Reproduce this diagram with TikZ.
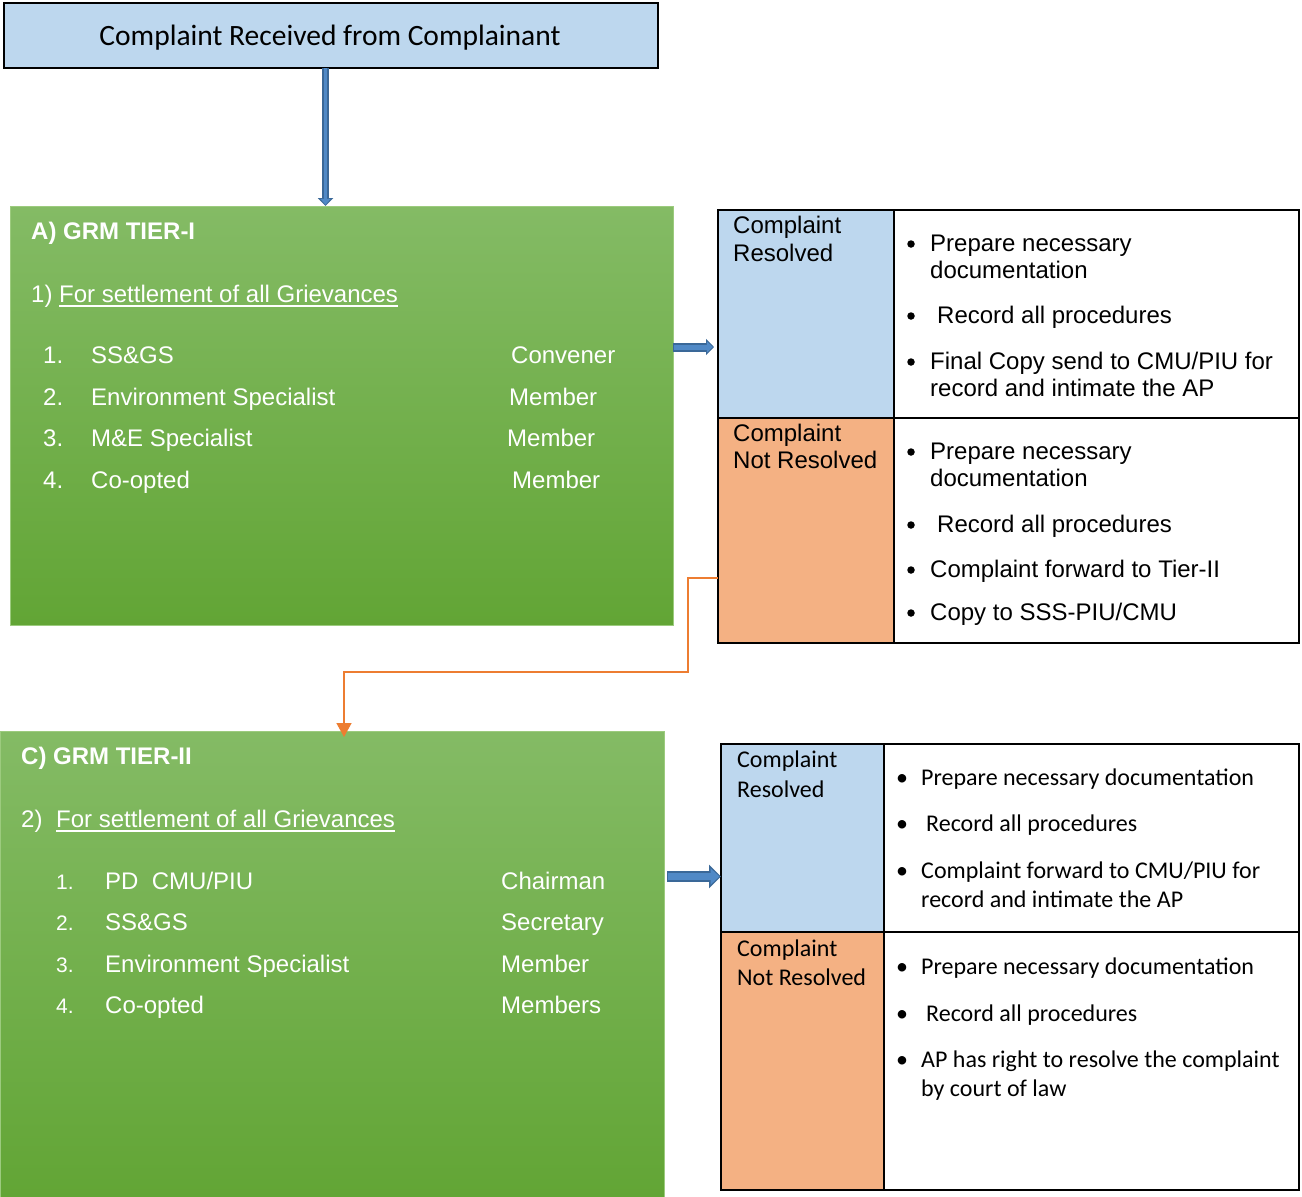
\documentclass[tikz,border=0pt]{standalone}
\usepackage{fontspec}
\newfontfamily\arialf{Liberation Sans}
\newfontfamily\calf{Carlito}
\usetikzlibrary{arrows.meta,calc}
\definecolor{lblue}{HTML}{BDD7EE}
\definecolor{lorange}{HTML}{F4B183}
\definecolor{gtop}{HTML}{84BB65}
\definecolor{gbot}{HTML}{62A535}
\definecolor{gline}{HTML}{9CCB7E}
\definecolor{ablue}{HTML}{5089C6}
\definecolor{ablued}{HTML}{3A6898}
\definecolor{aorange}{HTML}{ED7D31}
\newcommand\ulx[1]{\sbox0{#1}\rlap{\rule[-4.5pt]{\wd0}{1.4pt}}\usebox0}
\tikzset{
 cellbox/.style={draw=black, line width=2pt, anchor=north west, inner sep=0, outer sep=0},
 greenbox/.style={draw=gline, line width=1pt, top color=gtop, bottom color=gbot, anchor=north west, inner sep=0, outer sep=0},
 wtxt/.style={anchor=base west, inner sep=0, text=white, font=\arialf\fontsize{24}{28}\selectfont},
 wbold/.style={wtxt, font=\arialf\bfseries\fontsize{24}{28}\selectfont},
 wnum/.style={wtxt, font=\arialf\fontsize{21}{26}\selectfont},
 atxt/.style={anchor=base west, inner sep=0, font=\arialf\fontsize{24}{28}\selectfont},
 ctxt/.style={anchor=base west, inner sep=0, font=\calf\fontsize{24}{29}\selectfont},
 abul/.style={circle, fill=black, inner sep=0, outer sep=0, minimum size=7.5pt},
 cbul/.style={anchor=base, inner sep=0, font=\calf\fontsize{24}{29}\selectfont},
 oline/.style={draw=aorange, line width=1.5pt, -{Triangle[length=14pt,width=15pt]}},
}
\begin{document}
\begin{tikzpicture}[x=1pt,y=-1pt]
\useasboundingbox (0,0) rectangle (1302,1197);
\fill[white] (0,0) rectangle (1302,1197);

% top box
\node[draw=black, line width=2pt, fill=lblue, minimum width=654, minimum height=65, inner sep=0, outer sep=0] (top) at (331,35.5) {};
\node[anchor=base, inner sep=0, font=\calf\fontsize{29.5}{34}\selectfont] (toptxt) at (330,45) {Complaint Received from Complainant};

% green boxes
\node[greenbox, minimum width=663, minimum height=419] (tier1) at (10,206) {};
\node[greenbox, minimum width=664, minimum height=468] (tier2) at (0,731) {};

% table 1
\node[cellbox, fill=lblue, minimum width=176, minimum height=208] (r1a) at (718,210) {};
\node[cellbox, fill=white, minimum width=405, minimum height=208] (r1b) at (894,210) {};
\node[cellbox, fill=lorange, minimum width=176, minimum height=225] (r1c) at (718,418) {};
\node[cellbox, fill=white, minimum width=405, minimum height=225] (r1d) at (894,418) {};

% table 2
\node[cellbox, fill=lblue, minimum width=163, minimum height=188] (r2a) at (721,744) {};
\node[cellbox, fill=white, minimum width=415, minimum height=188] (r2b) at (884,744) {};
\node[cellbox, fill=lorange, minimum width=163, minimum height=258] (r2c) at (721,932) {};
\node[cellbox, fill=white, minimum width=415, minimum height=258] (r2d) at (884,932) {};

% arrows
\coordinate (va) at ($(top.south)+(-5.5,0)$);
\draw[ablued, line width=6.5pt, -{Triangle[length=8pt,width=15pt]}] (va) -- (va |- tier1.north);
\draw[ablue, line width=3pt, -{Triangle[length=6pt,width=10pt]}, shorten >=1.2pt] (va) -- (va |- tier1.north);

\draw[ablued, line width=9pt, -{Triangle[length=8pt,width=16pt]}, shorten >=4pt] (tier1.east |- 0,347) -- (r1a.west |- 0,347);
\draw[ablue, line width=5pt, -{Triangle[length=6pt,width=11pt]}, shorten >=5.2pt, shorten <=1pt] (tier1.east |- 0,347) -- (r1a.west |- 0,347);

\draw[ablued, line width=11.5pt, -{Triangle[length=12pt,width=23pt]}, shorten <=3pt] (tier2.east |- 0,876.5) -- (r2a.west |- 0,876.5);
\draw[ablue, line width=7pt, -{Triangle[length=9pt,width=16pt]}, shorten <=4pt, shorten >=1.5pt] (tier2.east |- 0,876.5) -- (r2a.west |- 0,876.5);

\coordinate (o1) at (688,578);
\coordinate (o2) at (344,672);
\draw[oline, shorten >=-6pt] (r1c.west |- o1) -- (o1) |- (o2) -- (o2 |- tier2.north);

% tier I text
\node[wbold] (h1) at (31,239.5) {A) GRM TIER-I};
\node[wtxt] (s1) at (31,302) {1) \ulx{For settlement of all Grievances}};
\node[wtxt] (n11) at (43,363.5) {1.};
\node[wtxt] (m11) at (91,363.5) {SS\&GS};
\node[wtxt] (p11) at (511,363.5) {Convener};
\node[wtxt] (n12) at (43,405) {2.};
\node[wtxt] (m12) at (91,405) {Environment Specialist};
\node[wtxt] (p12) at (509,405) {Member};
\node[wtxt] (n13) at (43,446.5) {3.};
\node[wtxt] (m13) at (91,446.5) {M\&E Specialist};
\node[wtxt] (p13) at (507,446.5) {Member};
\node[wtxt] (n14) at (43,488) {4.};
\node[wtxt] (m14) at (91,488) {Co-opted};
\node[wtxt] (p14) at (512,488) {Member};

% tier II text
\node[wbold] (h2) at (21,764) {C) GRM TIER-II};
\node[wtxt] (s2n) at (21,827) {2)};
\node[wtxt] (s2) at (56,827) {\ulx{For settlement of all Grievances}};
\node[wnum] (n21) at (56,889) {1.};
\node[wtxt] (m21) at (105,889) {PD\ \ CMU/PIU};
\node[wtxt] (p21) at (501,889) {Chairman};
\node[wnum] (n22) at (56,930.5) {2.};
\node[wtxt] (m22) at (105,930.5) {SS\&GS};
\node[wtxt] (p22) at (501,930.5) {Secretary};
\node[wnum] (n23) at (56,972) {3.};
\node[wtxt] (m23) at (105,972) {Environment Specialist};
\node[wtxt] (p23) at (501,972) {Member};
\node[wnum] (n24) at (56,1013) {4.};
\node[wtxt] (m24) at (105,1013) {Co-opted};
\node[wtxt] (p24) at (501,1013) {Members};

% table 1 text
\node[atxt] (c1a) at (733,233) {Complaint};
\node[atxt] (c1b) at (733,261) {Resolved};
\node[abul] (b11) at (911,244) {};
\node[atxt] (t11) at (930,251) {Prepare necessary};
\node[atxt] (t12) at (930,278) {documentation};
\node[abul] (b12) at (911,316) {};
\node[atxt] (t13) at (937,323) {Record all procedures};
\node[abul] (b13) at (911,362) {};
\node[atxt] (t14) at (930,369) {Final Copy send to CMU/PIU for};
\node[atxt] (t15) at (930,396) {record and intimate the AP};
\node[atxt] (c1c) at (733,441) {Complaint};
\node[atxt] (c1d) at (733,468) {Not Resolved};
\node[abul] (b14) at (911,452) {};
\node[atxt] (t16) at (930,459) {Prepare necessary};
\node[atxt] (t17) at (930,486) {documentation};
\node[abul] (b15) at (911,525) {};
\node[atxt] (t18) at (937,532) {Record all procedures};
\node[abul] (b16) at (911,570) {};
\node[atxt] (t19) at (930,577) {Complaint forward to Tier-II};
\node[abul] (b17) at (911,613) {};
\node[atxt] (t1a) at (930,620) {Copy to SSS-PIU/CMU};

% table 2 text
\node[ctxt] (c2a) at (737,767.5) {Complaint};
\node[ctxt] (c2b) at (737,797) {Resolved};
\node[cbul] (b21) at (902,785) {•};
\node[ctxt] (t21) at (921,785) {Prepare necessary documentation};
\node[cbul] (b22) at (902,831.5) {•};
\node[ctxt] (t22) at (926,831.5) {Record all procedures};
\node[cbul] (b23) at (902,878) {•};
\node[ctxt] (t23) at (921,878) {Complaint forward to CMU/PIU for};
\node[ctxt] (t24) at (921,907) {record and intimate the AP};
\node[ctxt] (c2c) at (737,956.5) {Complaint};
\node[ctxt] (c2d) at (737,985.5) {Not Resolved};
\node[cbul] (b24) at (902,974.5) {•};
\node[ctxt] (t25) at (921,974.5) {Prepare necessary documentation};
\node[cbul] (b25) at (902,1021) {•};
\node[ctxt] (t26) at (926,1021) {Record all procedures};
\node[cbul] (b26) at (902,1067.5) {•};
\node[ctxt] (t27) at (921,1067.5) {AP has right to resolve the complaint};
\node[ctxt] (t28) at (921,1096) {by court of law};
\end{tikzpicture}
\end{document}
